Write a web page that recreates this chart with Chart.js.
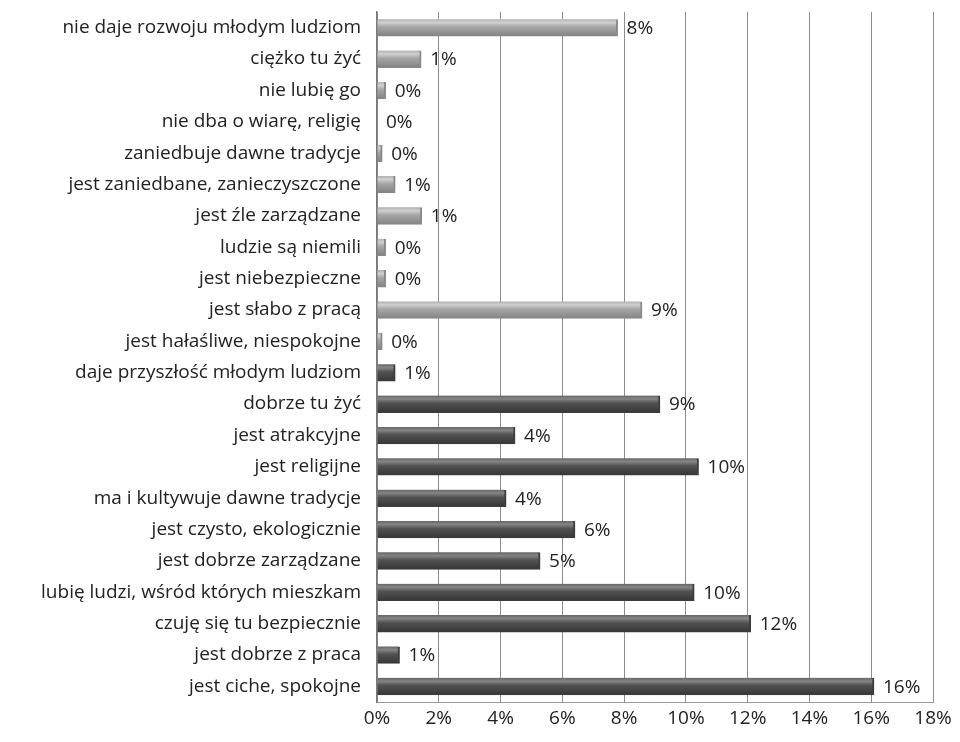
<!DOCTYPE html>
<html>
<head>
<meta charset="utf-8">
<script src="https://cdn.jsdelivr.net/npm/chart.js@4"></script>
<style>
  html, body { margin: 0; padding: 0; background: #fff; }
  #wrap { width: 960px; height: 742px; }
</style>
</head>
<body>
<div id="wrap"><canvas id="chart" width="960" height="742"></canvas></div>
<script>
const categories = [
    'nie daje rozwoju młodym ludziom',
    'ciężko tu żyć',
    'nie lubię go',
    'nie dba o wiarę, religię',
    'zaniedbuje dawne tradycje',
    'jest zaniedbane, zanieczyszczone',
    'jest źle zarządzane',
    'ludzie są niemili',
    'jest niebezpieczne',
    'jest słabo z pracą',
    'jest hałaśliwe, niespokojne',
    'daje przyszłość młodym ludziom',
    'dobrze tu żyć',
    'jest atrakcyjne',
    'jest religijne',
    'ma i kultywuje dawne tradycje',
    'jest czysto, ekologicznie',
    'jest dobrze zarządzane',
    'lubię ludzi, wśród których mieszkam',
    'czuję się tu bezpiecznie',
    'jest dobrze z praca',
    'jest ciche, spokojne'
];

const values = [
    7.79, 1.43, 0.28, 0.0, 0.17, 0.59, 1.45, 0.28, 0.28, 8.58, 0.17,
    0.59, 9.16, 4.47, 10.41, 4.18, 6.41, 5.28, 10.27, 12.1, 0.73, 16.09
];

// first 11 answers are the negative ones (light bars)
const negativeCount = 11;

const xTicks = [0, 2, 4, 6, 8, 10, 12, 14, 16, 18];

const FONT = { family: 'Open Sans', size: 19 };

function barFill(c) {
    const chart = c.chart;
    const { ctx, chartArea, scales } = chart;
    const light = c.dataIndex < negativeCount;
    if (!chartArea) return light ? '#9c9c9c' : '#555';
    const y = scales.y.getPixelForValue(c.dataIndex);
    const h = 17;
    const g = ctx.createLinearGradient(0, y - h / 2, 0, y + h / 2);
    if (light) {
        g.addColorStop(0, '#b0b0b0');
        g.addColorStop(0.2, '#d0d0d0');
        g.addColorStop(0.45, '#a6a6a6');
        g.addColorStop(1, '#828282');
    } else {
        g.addColorStop(0, '#666666');
        g.addColorStop(0.2, '#858585');
        g.addColorStop(0.45, '#525252');
        g.addColorStop(1, '#363636');
    }
    return g;
}

const valueLabels = {
    id: 'valueLabels',
    afterDatasetsDraw(chart) {
        const ctx = chart.ctx;
        const meta = chart.getDatasetMeta(0);
        ctx.save();
        ctx.font = FONT.size + 'px ' + FONT.family;
        ctx.fillStyle = '#222';
        ctx.textBaseline = 'middle';
        ctx.textAlign = 'left';
        meta.data.forEach((bar, i) => {
            ctx.fillText(Math.round(values[i]) + '%', bar.x + 9, bar.y + 1);
        });
        ctx.restore();
    }
};

new Chart(document.getElementById('chart').getContext('2d'), {
    type: 'bar',
    data: {
        labels: categories,
        datasets: [{
            data: values,
            backgroundColor: barFill,
            borderColor: c => c.dataIndex < negativeCount ? '#8a8a8a' : '#3c3c3c',
            borderWidth: { top: 0, bottom: 1, left: 0, right: 2 },
            barThickness: 17
        }]
    },
    options: {
        indexAxis: 'y',
        responsive: false,
        animation: false,
        layout: { padding: { top: 12, right: 27, left: 0, bottom: 0 } },
        plugins: {
            legend: { display: false },
            tooltip: { enabled: false }
        },
        scales: {
            x: {
                min: 0,
                max: 18,
                afterBuildTicks: s => { s.ticks = xTicks.map(v => ({ value: v })); },
                afterFit: s => { s.height = 40; s.paddingLeft = 0; s.paddingRight = 0; },
                grid: { color: '#8c8c8c', lineWidth: 1, drawTicks: false },
                border: { display: true, color: '#9a9a9a', width: 1 },
                ticks: {
                    padding: 5,
                    color: '#222',
                    font: FONT,
                    callback: v => v + '%'
                }
            },
            y: {
                afterFit: s => { s.width = 377; s.paddingTop = 0; s.paddingBottom = 0; },
                grid: { display: false },
                border: { display: true, color: '#7a7a7a', width: 1.5 },
                ticks: {
                    padding: 8,
                    color: '#222',
                    font: FONT,
                    autoSkip: false
                }
            }
        }
    },
    plugins: [valueLabels]
});
</script>
</body>
</html>
